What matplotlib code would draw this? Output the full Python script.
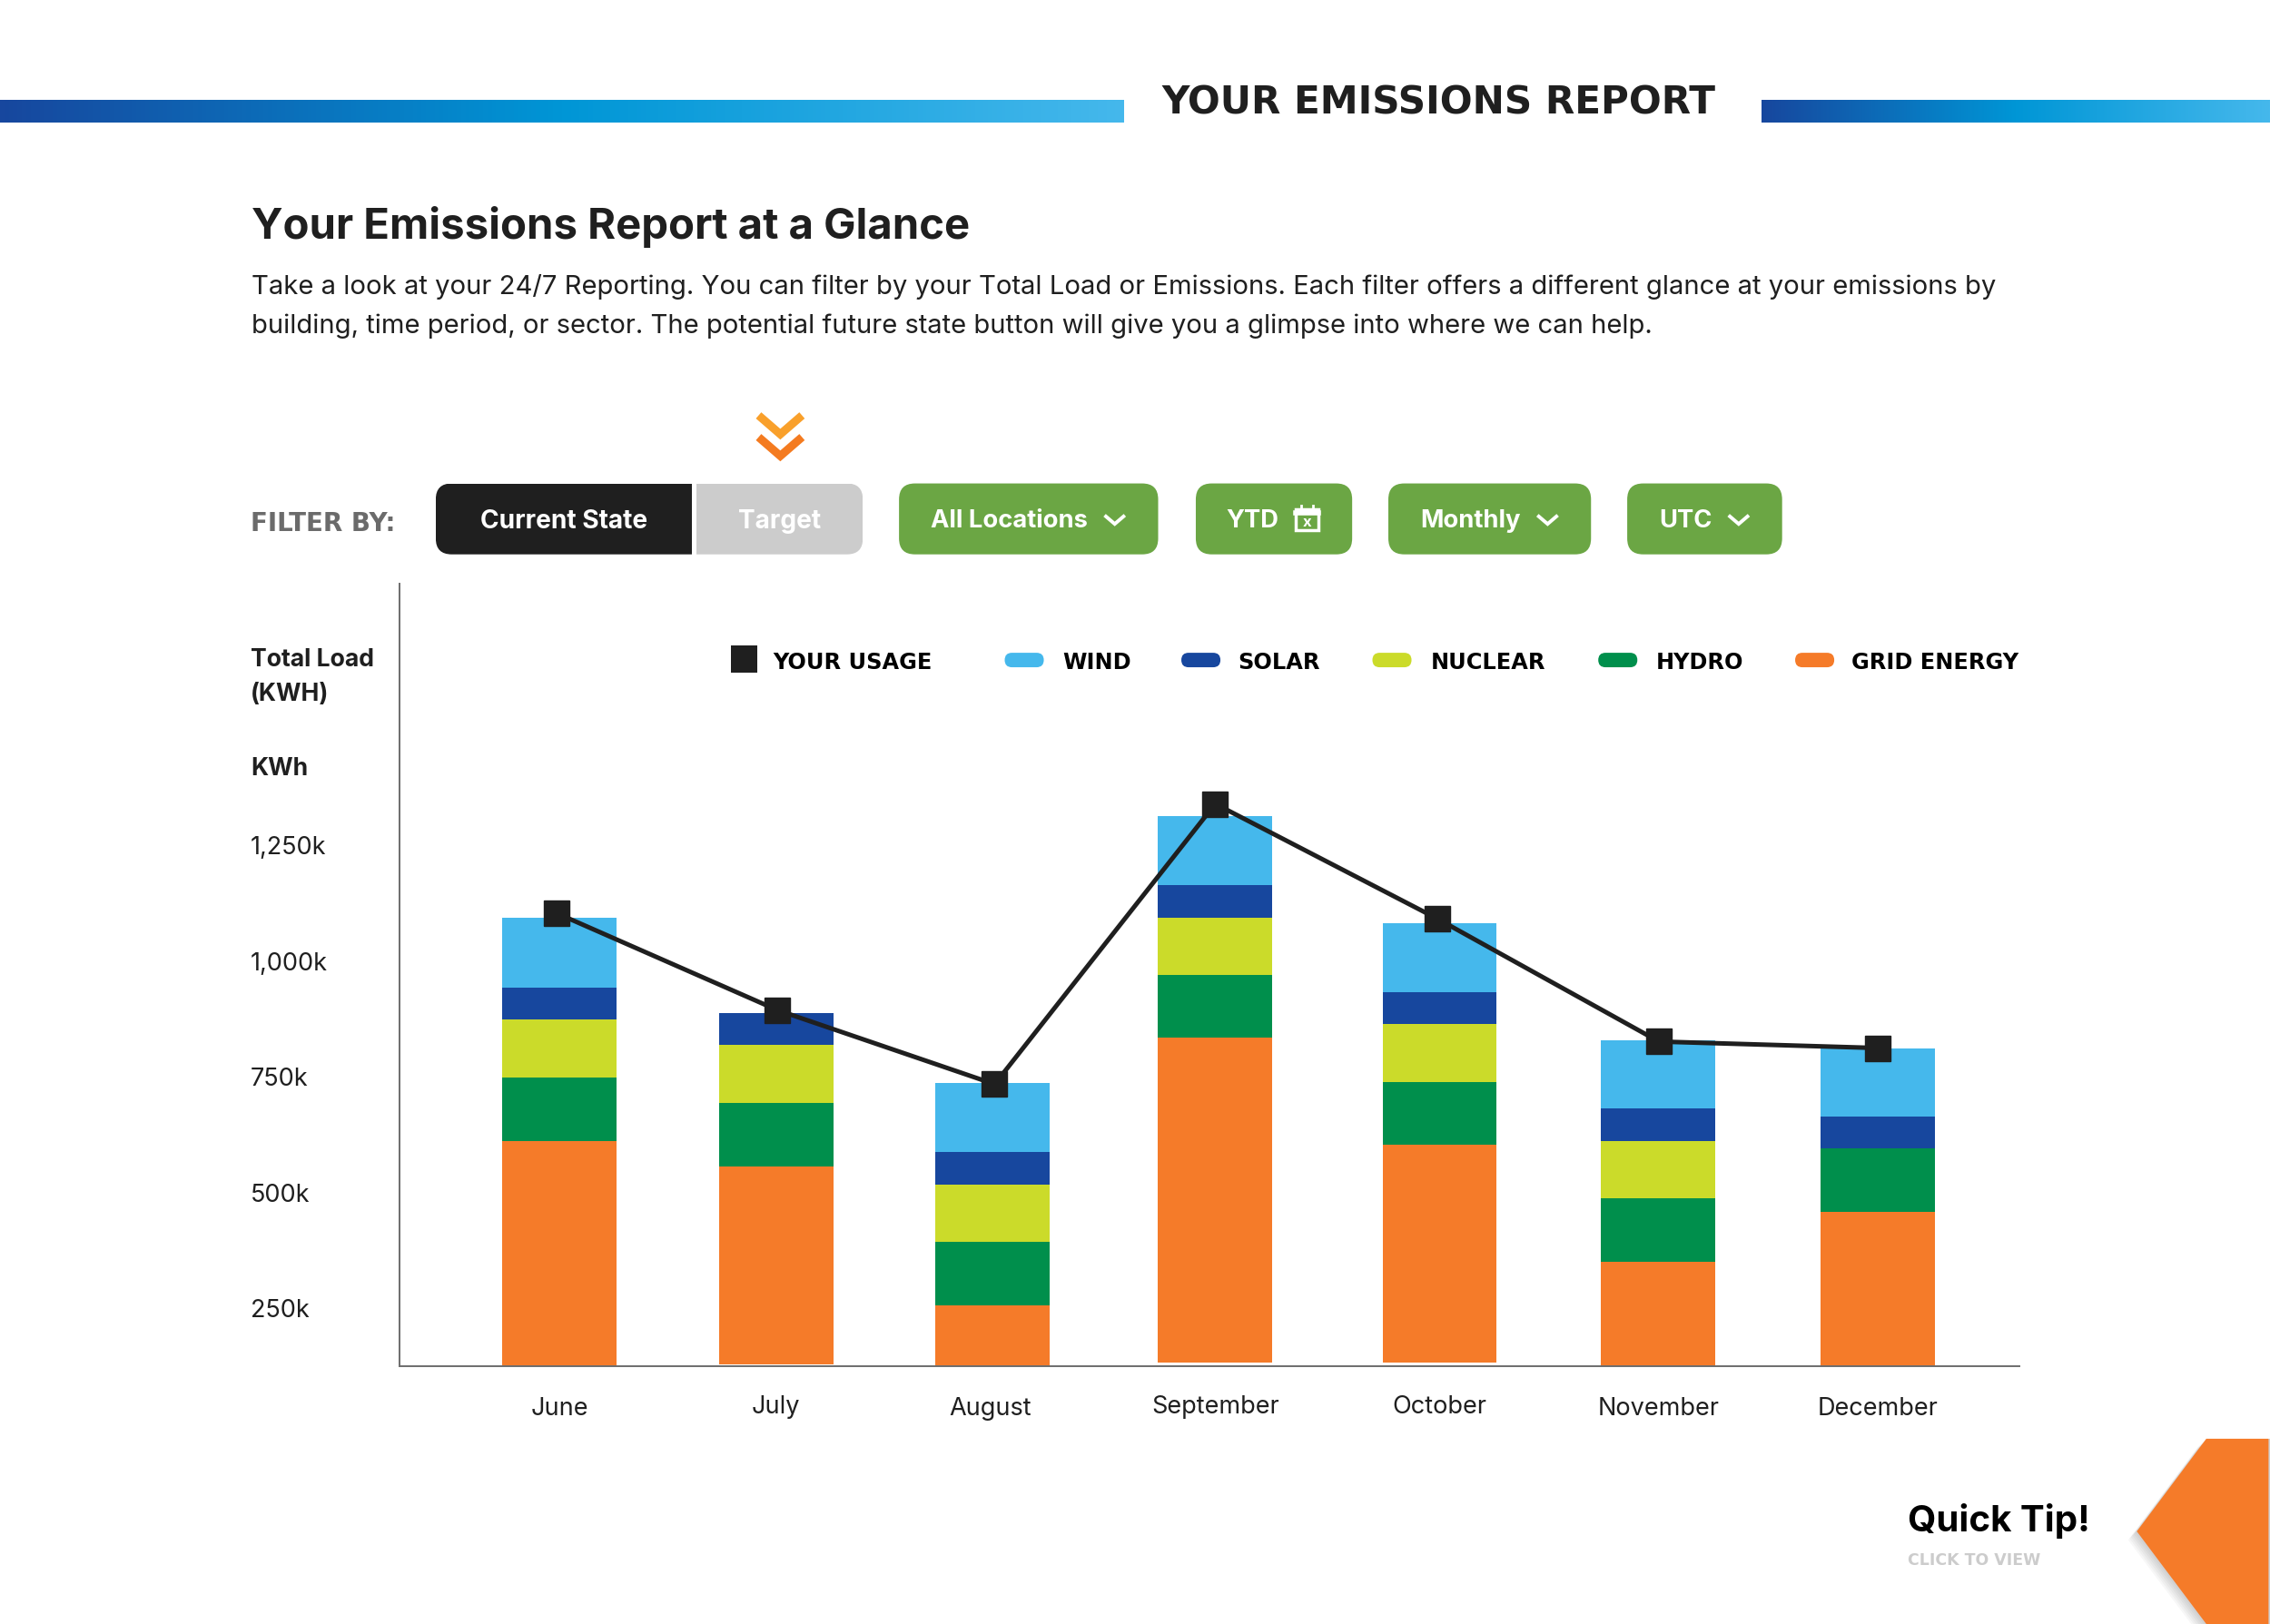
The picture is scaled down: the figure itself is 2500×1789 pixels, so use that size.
# Relatório de emissões: barras empilhadas por mês com a linha de consumo.

import matplotlib
matplotlib.use("Agg")
import matplotlib.pyplot as plt
import numpy as np
from matplotlib.colors import LinearSegmentedColormap
from matplotlib.patches import FancyBboxPatch, Polygon, Rectangle
from matplotlib.transforms import ScaledTranslation

plt.rcParams["font.family"] = ["Inter", "DejaVu Sans"]

# Dados (kWh em milhares)
months = ["June", "July", "August", "September", "October", "November", "December"]
grid_energy = [487, 427, 131, 701, 470, 225, 334]
hydro = [137, 137, 137, 135, 135, 137, 137]
nuclear = [125, 125, 125, 125, 125, 125, 0]
solar = [69, 69, 69, 70, 70, 69, 69]
wind = [150, 0, 150, 148, 148, 147, 147]
your_usage = [1103, 894, 734, 1339, 1091, 826, 812]
y_ticks = [250, 500, 750, 1000, 1250]
y_tick_labels = ["250k", "500k", "750k", "1,000k", "1,250k"]

# Layout
BASE_KWH = 125
TOP_KWH = 1815
# as colunas não são bem equidistantes no original
BAR_SLOTS = [0, 0.985, 1.97, 2.984, 4.005, 5.0, 6.0]
LINE_SLOTS = [-0.013, 0.991, 1.98, 2.984, 3.995, 5.003, 6.0]
BAR_LIFT = [0, 4, 0, 8, 8, 0, 0]  # folga entre a coluna e o eixo
BAR_WIDTH = 0.52
# desvios dos rótulos dos meses, em pontos (x, y)
MONTH_SHIFT = [(0, 0), (0, 1), (-1.4, 0), (0, 1.4), (0, 1.4), (0, 0), (0, -0.7)]

ORANGE = "#F57B29"
GREEN = "#008F4C"
LIME = "#CBDB2A"
NAVY = "#17479E"
SKY = "#45B8EC"
INK = "#1F1F1F"
BUTTON_GREEN = "#6BA644"


def page_text(x, y, texto, size, weight="normal", color=INK, ha="left", family=None):
    page.text(x, y + 2, texto, fontsize=size, fontweight=weight, color=color, ha=ha,
              va="center", family=family or ["Inter", "DejaVu Sans"], zorder=5)


def rounded(x0, x1, y0, y1, radius, color):
    patch = FancyBboxPatch((x0 + radius, y0 + radius), x1 - x0 - 2 * radius,
                           y1 - y0 - 2 * radius,
                           boxstyle=f"round,pad={radius},rounding_size={radius}",
                           facecolor=color, edgecolor="none", zorder=3)
    page.add_patch(patch)
    return patch


def chevron(x, y, half, drop, color, lw, zorder=5):
    page.plot([x - half, x, x + half], [y, y + drop, y], color=color, lw=lw,
              solid_joinstyle="miter", solid_capstyle="butt", zorder=zorder)


fig = plt.figure(figsize=(25, 17.89), dpi=100)

# Camada da página, em coordenadas de 1568 x 1122
page = fig.add_axes([0, 0, 1, 1])
page.set_xlim(0, 1568)
page.set_ylim(1122, 0)
page.axis("off")

# Faixas em degradê
ramp = LinearSegmentedColormap.from_list("faixa", [NAVY, "#0096D6", SKY])
gradient = np.linspace(0, 1, 256).reshape(1, -1)
page.imshow(gradient, cmap=ramp, extent=(0, 776, 84.5, 69), aspect="auto", zorder=1)
page.imshow(gradient, cmap=ramp, extent=(1217, 1568, 84.5, 69), aspect="auto", zorder=1)
page.set_xlim(0, 1568)
page.set_ylim(1122, 0)

page_text(993.5, 69, "YOUR EMISSIONS REPORT", 30.3, "bold", ha="center", family="DejaVu Sans")
page_text(174, 155, "Your Emissions Report at a Glance", 34, "bold")
page_text(174, 196, "Take a look at your 24/7 Reporting. You can filter by your Total Load or "
          "Emissions. Each filter offers a different glance at your emissions by", 21.05)
page_text(174, 223, "building, time period, or sector. The potential future state button "
          "will give you a glimpse into where we can help.", 21.05)

# Filtros
chevron(539, 287, 15, 13, "#F9A02B", 6.5)
chevron(539, 302, 15, 13, "#F47B20", 6.5)
page_text(173, 360, "FILTER BY:", 20, "bold", "#6B6B6B", family="DejaVu Sans")

# os dois botões de estado são uma só pílula cortada ao meio
estado_atual = rounded(301, 596, 334, 383, 11, INK)
estado_atual.set_clip_path(Rectangle((301, 334), 177, 49, transform=page.transData))
estado_alvo = rounded(301, 596, 334, 383, 11, "#CCCCCC")
estado_alvo.set_clip_path(Rectangle((481, 334), 115, 49, transform=page.transData))
page_text(389.5, 358, "Current State", 20.2, "bold", "white", ha="center")
page_text(538.5, 358, "Target", 20.2, "bold", "white", ha="center")

rounded(621, 800, 334, 383, 11, BUTTON_GREEN)
page_text(643, 358, "All Locations", 19.7, "bold", "white")
chevron(770, 356, 7, 6, "white", 2.8)
rounded(826, 934, 334, 383, 11, BUTTON_GREEN)
page_text(847, 358, "YTD", 19.7, "bold", "white")
page.add_patch(Rectangle((895, 352), 16, 14.5, facecolor="none", edgecolor="white", lw=2.5, zorder=5))
page.plot([895, 911], [354.5, 354.5], color="white", lw=4, zorder=5)
page.plot([899, 899], [349.5, 352], color="white", lw=2, zorder=5)
page.plot([907, 907], [349.5, 352], color="white", lw=2, zorder=5)
page_text(903, 359, "x", 12, "bold", "white", ha="center")
rounded(959, 1099, 334, 383, 11, BUTTON_GREEN)
page_text(981, 358, "Monthly", 19.7, "bold", "white")
chevron(1069, 356, 7, 6, "white", 2.8)
rounded(1124, 1231, 334, 383, 11, BUTTON_GREEN)
page_text(1146, 358, "UTC", 19.7, "bold", "white")
chevron(1201, 356, 7, 6, "white", 2.8)

# Rótulos do eixo e legenda
page_text(173, 454, "Total Load", 19.1, "bold")
page_text(173, 478, "(KWH)", 19.1, "bold")
page_text(173, 529, "KWh", 19.1, "bold")

page.add_patch(Rectangle((505, 446), 18, 19, facecolor=INK, edgecolor="none", zorder=3))
page_text(534, 456, "YOUR USAGE", 17.3, "bold", "black", family="DejaVu Sans")
legend_items = [("WIND", SKY, 694, 734), ("SOLAR", NAVY, 816, 855), ("NUCLEAR", LIME, 948, 988),
                ("HYDRO", GREEN, 1104, 1144), ("GRID ENERGY", ORANGE, 1240, 1279)]
for nome, cor, pill_x, text_x in legend_items:
    rounded(pill_x, pill_x + 27, 451, 461, 5, cor)
    page_text(text_x, 456, nome, 17.3, "bold", "black", family="DejaVu Sans")

# Dica no canto
for step in range(1, 7):
    page.add_patch(Polygon([(1524 - step, 994 + step), (1476 - step, 1058 + step),
                            (1524 - step, 1122 + step), (1568, 1122), (1568, 994)],
                           closed=True, facecolor="black", alpha=0.03, edgecolor="none", zorder=2))
page.add_patch(Polygon([(1524, 994), (1567, 994), (1567, 1122), (1524, 1122), (1476, 1058)],
                       closed=True, facecolor=ORANGE, edgecolor="none", zorder=3))
page_text(1318, 1049, "Quick Tip!", 29, "bold", "black")
page_text(1318, 1076, "CLICK TO VIEW", 12.5, "bold", "#CCCCCC", family="DejaVu Sans")

# Gráfico
ax = fig.add_axes([276 / 1568, 1 - 944 / 1122, (1395 - 276) / 1568, (944 - 403) / 1122])
ax.patch.set_alpha(0)
bottom = BASE_KWH + np.array(BAR_LIFT, dtype=float)
for valores, cor in [(grid_energy, ORANGE), (hydro, GREEN), (nuclear, LIME), (solar, NAVY), (wind, SKY)]:
    ax.bar(BAR_SLOTS, valores, BAR_WIDTH, bottom=bottom, color=cor, linewidth=0, zorder=2)
    bottom += valores
ax.plot(LINE_SLOTS, your_usage, color=INK, lw=3.6, marker="s", markersize=20.5,
        markerfacecolor=INK, markeredgecolor=INK, zorder=4)

ax.set_xlim(-0.728, 6.644)
ax.set_ylim(BASE_KWH, TOP_KWH)
ax.set_xticks(BAR_SLOTS, months)
ax.set_yticks(y_ticks, y_tick_labels)
ax.tick_params(axis="x", length=0, pad=24, labelsize=19.5, labelcolor=INK)
ax.tick_params(axis="y", length=0, pad=118, labelsize=19.5, labelcolor=INK)
for rotulo in ax.get_yticklabels():
    rotulo.set_horizontalalignment("left")
for rotulo, (dx, dy) in zip(ax.get_xticklabels(), MONTH_SHIFT):
    rotulo.set_transform(rotulo.get_transform() + ScaledTranslation(dx / 72, dy / 72, fig.dpi_scale_trans))
ax.spines[["top", "right"]].set_visible(False)
ax.spines[["left", "bottom"]].set_color("#6D6D6D")
ax.spines[["left", "bottom"]].set_linewidth(1.4)

fig.savefig("out.png", dpi=100)
plt.close(fig)
